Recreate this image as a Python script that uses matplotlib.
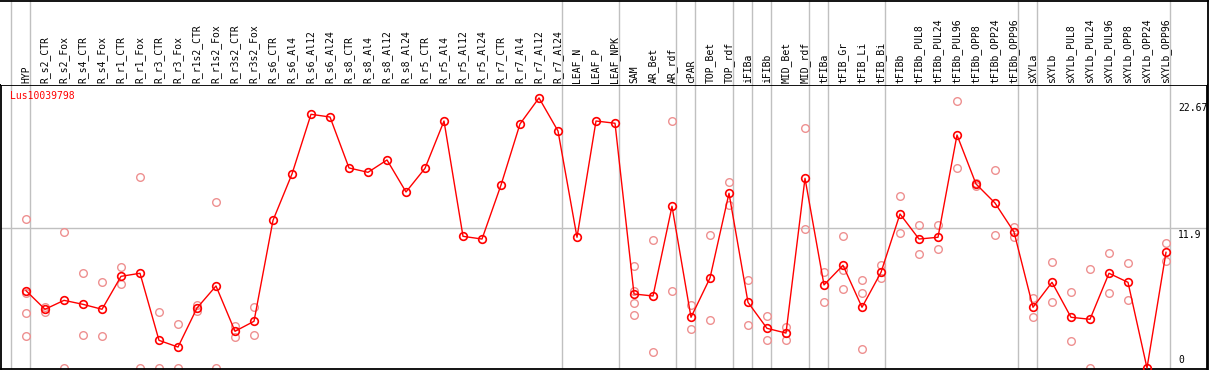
import matplotlib
matplotlib.use("Agg")
import matplotlib.pyplot as plt
from matplotlib.lines import Line2D

# sample labels (one column each)
labels = [
    "HYP", "R_s2_CTR", "R_s2_Fox", "R_s4_CTR", "R_s4_Fox", "R_r1_CTR", "R_r1_Fox",
    "R_r3_CTR", "R_r3_Fox", "R_r1s2_CTR", "R_r1s2_Fox", "R_r3s2_CTR", "R_r3s2_Fox",
    "R_s6_CTR", "R_s6_Al4", "R_s6_Al12", "R_s6_Al24", "R_s8_CTR", "R_s8_Al4",
    "R_s8_Al12", "R_s8_Al24", "R_r5_CTR", "R_r5_Al4", "R_r5_Al12", "R_r5_Al24",
    "R_r7_CTR", "R_r7_Al4", "R_r7_Al12", "R_r7_Al24", "LEAF_N", "LEAF_P", "LEAF_NPK",
    "SAM", "AR_Bet", "AR_rdf", "cPAR", "TOP_Bet", "TOP_rdf", "iFIBa", "iFIBb",
    "MID_Bet", "MID_rdf", "tFIBa", "tFIB_Gr", "tFIB_Li", "tFIB_Bi", "tFIBb",
    "tFIBb_PUL8", "tFIBb_PUL24", "tFIBb_PUL96", "tFIBb_OPP8", "tFIBb_OPP24",
    "tFIBb_OPP96", "sXYLa", "sXYLb", "sXYLb_PUL8", "sXYLb_PUL24", "sXYLb_PUL96",
    "sXYLb_OPP8", "sXYLb_OPP24", "sXYLb_OPP96",
]

# mean expression per sample
means = [
    6.57, 4.99, 5.75, 5.41, 4.99, 7.79, 8.05, 2.35, 1.78, 5.10, 6.97, 3.12, 3.97,
    12.55, 16.49, 21.56, 21.33, 17.00, 16.63, 17.68, 14.96, 16.97, 20.99, 11.19,
    10.96, 15.55, 20.74, 22.95, 20.14, 11.11, 20.99, 20.80,
    6.29, 6.12, 13.74, 4.31, 7.65, 14.85, 5.58, 3.37, 2.97, 16.12, 7.06, 8.73,
    5.16, 8.13, 13.09, 10.96, 11.11, 19.80, 15.64, 14.02, 11.56, 5.16, 7.28,
    4.31, 4.14, 8.05, 7.28, 0.0, 9.83,
]

# individual replicates (empty where none shown)
replicates = [
    [12.66, 6.35, 4.65, 2.72], [5.21, 4.76], [11.6, 0.0], [8.05, 2.80], [7.28, 2.72],
    [8.58, 7.11], [16.2, 0.0], [4.8, 0.0], [3.71, 0.0], [5.38, 4.87], [14.08, 0.0],
    [3.57, 2.61], [5.16, 2.78],
    [], [], [], [], [], [], [], [], [], [], [], [], [], [], [], [], [], [], [],
    [8.64, 6.52, 5.50, 4.50], [10.85, 1.33], [21.0, 6.52], [5.35, 3.29],
    [11.28, 4.05], [15.81, 13.88], [7.45, 3.65], [4.39, 2.35], [3.51, 2.35],
    [20.37, 11.81], [8.16, 5.58], [11.19, 8.33, 6.72], [7.45, 6.35, 1.59],
    [8.73, 7.65], [14.59, 11.45], [12.13, 9.66], [12.13, 10.12], [22.67, 16.97],
    [15.75, 15.5], [16.80, 11.28], [11.96, 11.11], [5.92, 4.31], [8.98, 5.58],
    [6.43, 2.27], [8.41, 0.0], [9.75, 6.35], [8.90, 5.75], [], [10.63, 9.07],
]

group_ends = [-1, 0, 28, 31, 34, 35, 37, 38, 39, 41, 42, 45, 52, 53, 60]
ytick_vals = [22.67, 11.9, 0]
gene = "Lus10039798"

W, H = 1209, 370
fig = plt.figure(figsize=(W / 100, H / 100), dpi=100)
mono = "DejaVu Sans Mono"

xlim = (-1.316, 62.158)
ax = fig.add_axes([1 / W, 1 / H, 1206 / W, 284 / H])
hd = fig.add_axes([1 / W, 285 / H, 1206 / W, 85 / H])

for a in (ax, hd):
    a.set_xlim(*xlim)
    a.set_xticks([])
    a.set_yticks([])
    for g in group_ends:
        a.axvline(g + 4 / 19, color="#c0c0c0", lw=1.0, zorder=0)

hd.set_ylim(0, 85)
for s in hd.spines.values():
    s.set_visible(False)
for i, lab in enumerate(labels):
    hd.text(i, 2, lab, rotation=90, ha="center", va="bottom",
            fontsize=7, family=mono, color="black")

ax.set_ylim(-0.085, 24.05)
for s in ax.spines.values():
    s.set_linewidth(1.3)
ax.axhline(11.9, color="#c0c0c0", lw=1.0, zorder=0)

for i, reps in enumerate(replicates):
    if reps:
        ax.plot([i] * len(reps), reps, "o", ms=5.5, mfc="none", mec="#ee9090",
                mew=1.0, zorder=2)

ax.plot(range(len(means)), means, "-o", color="red", lw=1.0, ms=5.5,
        mfc="none", mec="red", mew=1.2, zorder=3)

ax.text(9 / 1206, 0.978, gene, transform=ax.transAxes, ha="left", va="top",
        fontsize=7, family=mono, color="red")

ytr = ax.get_yaxis_transform()
xfrac = (1178 - 1) / 1206
for v in ytick_vals:
    txt = f"{v:g}"
    if v == 0:
        ax.text(xfrac, 0.25, txt, transform=ytr, ha="left", va="bottom",
                fontsize=7, family=mono)
    else:
        ax.text(xfrac, v - 0.15, txt, transform=ytr, ha="left", va="top",
                fontsize=7, family=mono)

# outer frame: top edge and right edge of the whole picture
fig.add_artist(Line2D([0, 1], [1 - 0.5 / H, 1 - 0.5 / H], transform=fig.transFigure,
                      color="black", lw=1.3))
fig.add_artist(Line2D([1207.5 / W, 1207.5 / W], [0, 1], transform=fig.transFigure,
                      color="black", lw=1.3))

fig.savefig("out.png", dpi=100)
